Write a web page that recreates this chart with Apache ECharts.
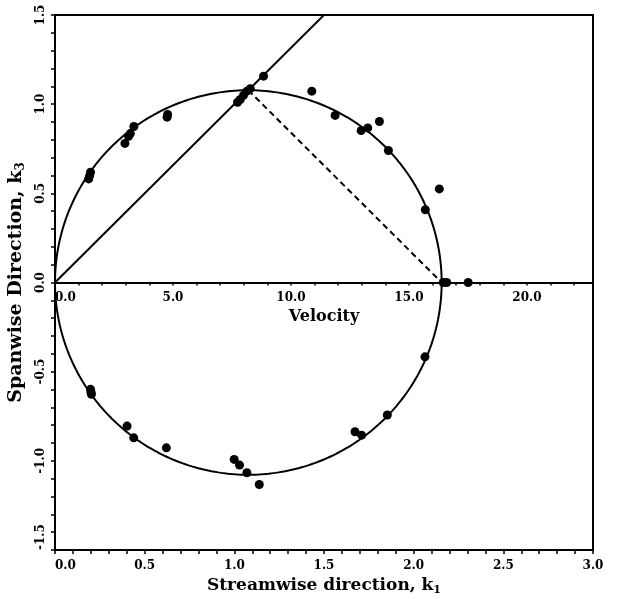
<!DOCTYPE html>
<html>
<head>
<meta charset="utf-8">
<script src="https://cdn.jsdelivr.net/npm/echarts@6/dist/echarts.min.js"></script>
<style>
  html, body { margin: 0; padding: 0; background: #fff; }
  #chart { width: 618px; height: 599px; }
</style>
</head>
<body>
<div id="chart"></div>
<script>
// measured points [k1, k3]
var upperPoints = [
  [0.188, 0.581], [0.193, 0.598], [0.198, 0.618],
  [0.390, 0.780], [0.410, 0.820], [0.420, 0.835], [0.440, 0.875],
  [0.625, 0.927], [0.628, 0.942],
  [1.018, 1.011], [1.033, 1.026], [1.051, 1.049], [1.070, 1.073], [1.089, 1.087],
  [1.163, 1.157], [1.432, 1.073], [1.562, 0.937],
  [1.707, 0.852], [1.744, 0.867], [1.809, 0.903], [1.859, 0.740],
  [2.143, 0.525], [2.065, 0.408]
];
var axisPoints = [[2.165, 0.0], [2.184, 0.0], [2.304, 0.0]];
var lowerPoints = [
  [0.198, -0.599], [0.201, -0.615], [0.203, -0.627],
  [0.402, -0.805], [0.439, -0.871], [0.621, -0.927],
  [0.999, -0.992], [1.029, -1.024], [1.070, -1.067], [1.139, -1.133],
  [1.673, -0.837], [1.710, -0.856], [1.853, -0.743], [2.063, -0.417]
];

// fitted circle through the origin, centre on the k1 axis
var circleCenter = 1.078;
var circleRadius = 1.078;

// axis ranges
var k1Range = [0, 3.0];
var k3Range = [-1.5, 1.5];
var velocityRange = [0, 22.8];

function circlePoints() {
  var pts = [];
  for (var i = 0; i <= 360; ++i) {
    var a = i * Math.PI / 180;
    pts.push([circleCenter + circleRadius * Math.cos(a), circleRadius * Math.sin(a)]);
  }
  return pts;
}

var circleTop = [circleCenter, circleRadius];
var rayLine = [[0, 0], [1.7, 1.7]];
var dashedLine = [circleTop, [circleCenter + circleRadius, 0]];

var serifFont = '"DejaVu Serif", serif';
var fmt1 = function(v) { return (+v).toFixed(1); };
var black = '#000';
var lineW = 2;

var chart = echarts.init(document.getElementById('chart'));
chart.setOption({
  animation: false,
  backgroundColor: '#fff',
  grid: {
    left: 55, right: 25, top: 15, bottom: 49,
    containLabel: false, outerBoundsMode: 'none',
    show: true, borderColor: black, borderWidth: lineW
  },
  xAxis: [{
    type: 'value',
    min: k1Range[0], max: k1Range[1], interval: 0.5,
    position: 'bottom',
    name: 'Streamwise direction, k{sub|1}',
    nameLocation: 'middle', nameGap: 24,
    nameTextStyle: {
      fontFamily: serifFont, fontSize: 17, fontWeight: 'bold', color: black,
      rich: { sub: { fontFamily: serifFont, fontSize: 11, fontWeight: 'bold', color: black, padding: [9, 0, 0, 0] } }
    },
    axisLine: { onZero: false, lineStyle: { color: black, width: lineW } },
    axisTick: { inside: false, length: 4, lineStyle: { color: black, width: 1.5 } },
    minorTick: { show: true, splitNumber: 5, length: 4, lineStyle: { color: black, width: 1.5 } },
    axisLabel: {
      formatter: fmt1, margin: 10, fontFamily: serifFont, fontWeight: 'bold', fontSize: 12, color: black,
      alignMinLabel: 'left'
    },
    splitLine: { show: false }
  }, {
    type: 'value',
    min: velocityRange[0], max: velocityRange[1], interval: 1,
    position: 'bottom', offset: -267.5,
    name: 'Velocity',
    nameLocation: 'middle', nameGap: 21,
    nameTextStyle: { fontFamily: serifFont, fontSize: 16, fontWeight: 'bold', color: black },
    axisLine: { onZero: false, lineStyle: { color: black, width: lineW } },
    axisTick: { length: 3, lineStyle: { color: black, width: 1.5 } },
    axisLabel: {
      formatter: function(v) { return v % 5 === 0 ? v.toFixed(1) : ''; },
      margin: 9, fontFamily: serifFont, fontWeight: 'bold', fontSize: 12, color: black,
      showMaxLabel: false, alignMinLabel: 'left'
    },
    splitLine: { show: false }
  }],
  yAxis: {
    type: 'value',
    min: k3Range[0], max: k3Range[1], interval: 0.5,
    name: 'Spanwise Direction, k{sub|3}',
    nameLocation: 'middle', nameGap: 18, nameRotate: 90,
    nameTextStyle: {
      fontFamily: serifFont, fontSize: 19, fontWeight: 'bold', color: black,
      rich: { sub: { fontFamily: serifFont, fontSize: 12, fontWeight: 'bold', color: black, padding: [10, 0, 0, 0] } }
    },
    axisLine: { onZero: false, lineStyle: { color: black, width: lineW } },
    axisTick: { length: 4, lineStyle: { color: black, width: 1.5 } },
    minorTick: { show: true, splitNumber: 5, length: 4, lineStyle: { color: black, width: 1.5 } },
    axisLabel: {
      formatter: fmt1, rotate: 90, margin: 8, fontFamily: serifFont, fontWeight: 'bold', fontSize: 12, color: black,
      alignMinLabel: 'left'
    },
    splitLine: { show: false }
  },
  series: [{
    type: 'line', data: circlePoints(), symbol: 'none', silent: true,
    lineStyle: { color: black, width: lineW }
  }, {
    type: 'line', data: rayLine, symbol: 'none', clip: true, silent: true,
    lineStyle: { color: black, width: lineW }
  }, {
    type: 'line', data: dashedLine, symbol: 'none', silent: true,
    lineStyle: { color: black, width: lineW, type: [6, 4] }
  }, {
    type: 'scatter', data: upperPoints.concat(axisPoints, lowerPoints),
    symbolSize: 9, itemStyle: { color: black, opacity: 1 }
  }]
});
</script>
</body>
</html>
